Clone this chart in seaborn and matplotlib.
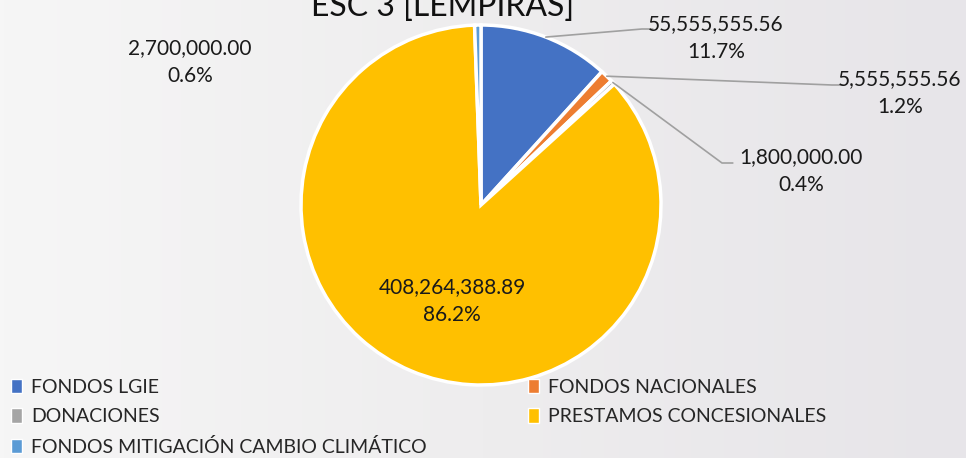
import matplotlib.pyplot as plt
import numpy as np
import seaborn as sns

sns.set_theme(style="white")
plt.rcParams["font.family"] = ["Lato", "DejaVu Sans"]

categories = [
    "FONDOS LGIE",
    "FONDOS NACIONALES",
    "DONACIONES",
    "PRESTAMOS CONCESIONALES",
    "FONDOS MITIGACIÓN CAMBIO CLIMÁTICO",
]
values = [55555555.56, 5555555.56, 1800000.00, 408264388.89, 2700000.00]
colors = ["#4472C4", "#ED7D31", "#A5A5A5", "#FFC000", "#5B9BD5"]
title = "ESC 3 [LEMPIRAS]"

W, H = 966, 458
fig = plt.figure(figsize=(W / 100, H / 100), dpi=100)

# soft grey background
bg = fig.add_axes([0, 0, 1, 1])
grad = np.linspace(0, 1, 256)[None, :]
bg.imshow(grad, extent=[0, 1, 0, 1], aspect="auto",
          cmap=sns.blend_palette(["#f6f6f6", "#eeedee", "#e7e5e9"], as_cmap=True))
bg.set_axis_off()

# pie axes: center ~(481, 205) px, radius ~180 px
cx, cy, r = 481, 205, 180
ax = fig.add_axes([(cx - r) / W, (H - cy - r) / H, 2 * r / W, 2 * r / H])
wedges, _ = ax.pie(values, colors=colors, startangle=90, counterclock=False,
                   radius=1, wedgeprops=dict(edgecolor="white", linewidth=2.5))
ax.set_xlim(-1, 1)
ax.set_ylim(-1, 1)
ax.set_aspect("auto")
ax.set_axis_off()

total = sum(values)


def px(x, y):
    return ((x - cx) / r, (cy - y) / r)


# label placement (pixel positions of text centres and leader elbows)
label_pos = [(716, 38), (900, 93), (801, 171), (452, 301), (190, 62)]
leader_end = [(642, 29), (832, 85), (722, 163), None, None]

for w, v, pos, lend in zip(wedges, values, label_pos, leader_end):
    txt = f"{v:,.2f}\n{v / total * 100:.1f}%"
    tx, ty = px(*pos)
    ax.text(tx, ty, txt, ha="center", va="center", fontsize=15, color="#1a1a1a",
            linespacing=1.55, clip_on=False)
    if lend is not None:
        ang = np.deg2rad((w.theta1 + w.theta2) / 2)
        sx, sy = np.cos(ang), np.sin(ang)
        ex, ey = px(*lend)
        ax.plot([sx, ex, ex + 0.06], [sy, ey, ey], color="#a0a0a0", lw=1.2,
                clip_on=False)

fig.text(443 / W, (H - 16) / H, title, ha="center", va="baseline",
         fontsize=23, color="#111111")

# legend, row-major order emulated with column-major fill
order = [0, 2, 4, 1, 3]
handles = [plt.Rectangle((0, 0), 1, 1, facecolor=colors[i], edgecolor="white", lw=1)
           for i in order]
fig.legend(handles, [categories[i] for i in order], ncol=2, loc="upper left",
           bbox_to_anchor=(0.003, (H - 371) / H), frameon=False, fontsize=14,
           handlelength=0.6, handleheight=0.75, handletextpad=0.45,
           columnspacing=5.2, labelspacing=0.64, borderaxespad=0)

fig.savefig("out.png", dpi=100)
